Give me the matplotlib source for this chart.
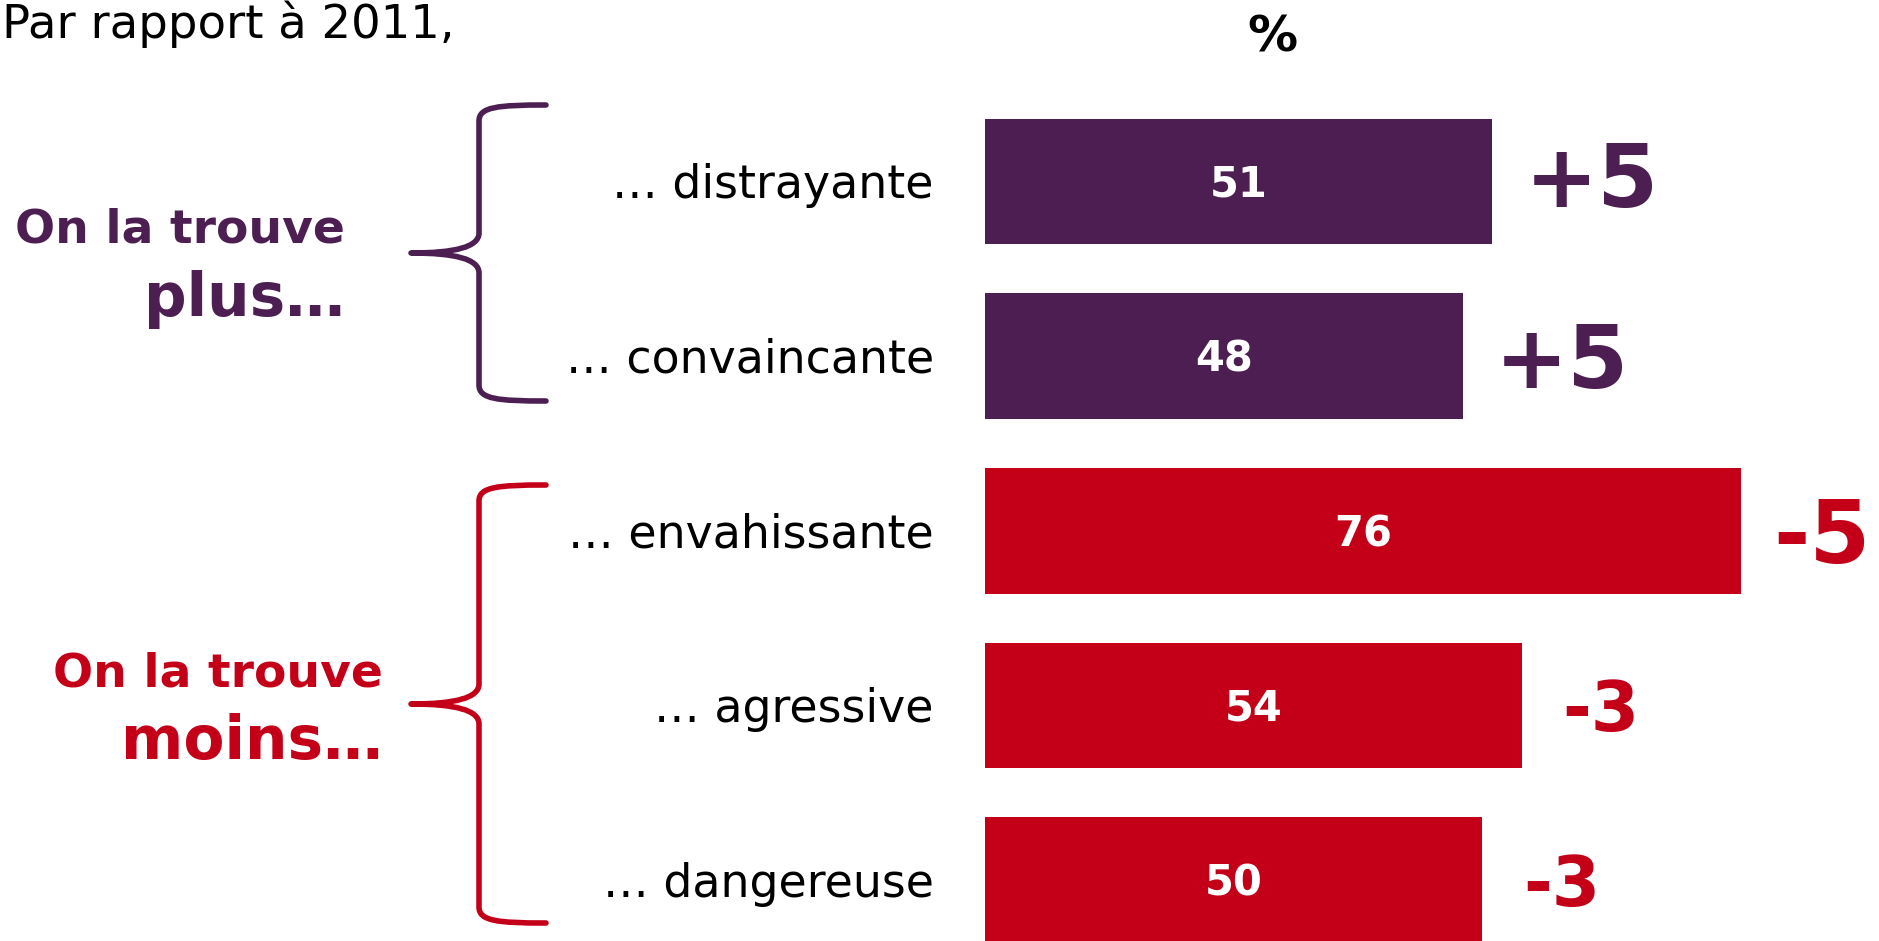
import matplotlib
matplotlib.use("Agg")
import matplotlib.pyplot as plt
from matplotlib.path import Path
from matplotlib.patches import PathPatch

# --- data -------------------------------------------------------------
categories = ["… distrayante", "… convaincante", "… envahissante",
              "… agressive", "… dangereuse"]
values = [51, 48, 76, 54, 50]          # % in the current wave
changes = [5, 5, -5, -3, -3]           # points vs 2011
group_titles = ["On la trouve", "On la trouve"]
group_words = ["plus…", "moins…"]
group_members = [[0, 1], [2, 3, 4]]

PURPLE = "#4c1e51"
RED = "#c40019"
group_colors = [PURPLE, RED]

# --- figure geometry (pixels) -----------------------------------------
W, H, DPI = 1879, 941, 100
ZERO_PX = 985          # x pixel of value 0
PX_PER_UNIT = 9.95     # pixels per percentage point
ROW0_PX = 181.6        # y pixel of first row centre
ROW_PITCH = 174.65     # pixels between rows

plt.rcParams["font.family"] = ["DejaVu Sans"]

fig = plt.figure(figsize=(W / DPI, H / DPI), dpi=DPI)
ax = fig.add_axes([0, 0, 1, 1])
ax.set_axis_off()
ax.set_xlim(-ZERO_PX / PX_PER_UNIT, (W - ZERO_PX) / PX_PER_UNIT)
ax.set_ylim((H - ROW0_PX) / ROW_PITCH, -ROW0_PX / ROW_PITCH)


def dx(px):
    return (px - ZERO_PX) / PX_PER_UNIT


def dy(py):
    return (py - ROW0_PX) / ROW_PITCH


row_color = [None] * len(categories)
for g, members in enumerate(group_members):
    for i in members:
        row_color[i] = group_colors[g]

ypos = list(range(len(categories)))
ax.barh(ypos, values, height=0.72, color=row_color, linewidth=0)


def centred_text(x, y, s, fs, dx_pt=0, dy_pt=0, **kw):
    """Place text so that its cap height is centred on y."""
    ax.annotate(s, xy=(x, y), xytext=(dx_pt, dy_pt - 0.365 * fs),
                textcoords="offset points", va="baseline", fontsize=fs, **kw)


for i, (cat, v, c) in enumerate(zip(categories, values, changes)):
    # category label
    centred_text(dx(934), i, cat, 33, ha="right", color="black")
    # value inside the bar
    centred_text(v / 2, i, str(v), 30, ha="center", color="white",
                 fontweight="bold")
    # change vs 2011
    big = abs(c) >= 5
    fs = 63 if big else 50
    centred_text(v, i, f"{c:+d}", fs, dx_pt=23 if big else 29,
                 dy_pt=5 if i == 0 else 0, ha="left",
                 color=row_color[i], fontweight="bold")

# --- braces and group titles ------------------------------------------
brace_spans = [(105, 401), (485, 923)]
title_offsets = [(-28, 41), (-35, 33)]
title_right = [345, 383]
VERT_X, ARM_X, TIP_X = 479, 546, 411

for g, (top, bot) in enumerate(brace_spans):
    mid = (top + bot) / 2
    pts = [
        (ARM_X, top), (VERT_X + 18, top), (VERT_X, top + 2), (VERT_X, top + 16),
        (VERT_X, mid - 20),
        (VERT_X, mid - 6), (VERT_X - 24, mid), (TIP_X, mid),
        (VERT_X - 24, mid), (VERT_X, mid + 6), (VERT_X, mid + 20),
        (VERT_X, bot - 16),
        (VERT_X, bot - 2), (VERT_X + 18, bot), (ARM_X, bot),
    ]
    codes = [Path.MOVETO, Path.CURVE4, Path.CURVE4, Path.CURVE4,
             Path.LINETO,
             Path.CURVE4, Path.CURVE4, Path.CURVE4,
             Path.CURVE4, Path.CURVE4, Path.CURVE4,
             Path.LINETO,
             Path.CURVE4, Path.CURVE4, Path.CURVE4]
    path = Path([(dx(x), dy(y)) for x, y in pts], codes)
    ax.add_patch(PathPatch(path, fill=False, edgecolor=group_colors[g],
                           linewidth=4.0, capstyle="round", joinstyle="round"))

    t_off, w_off = title_offsets[g]
    centred_text(dx(title_right[g]), dy(mid + t_off), group_titles[g], 34,
                 ha="right", color=group_colors[g], fontweight="bold")
    centred_text(dx(title_right[g]), dy(mid + w_off), group_words[g], 43,
                 ha="right", color=group_colors[g], fontweight="bold")

# --- header texts -------------------------------------------------------
fig.text(2 / W, 1 - 38 / H, "Par rapport à 2011,", fontsize=33.5,
         ha="left", va="baseline", color="black")
fig.text(1272 / W, 1 - 52 / H, "%", fontsize=36, ha="center",
         va="baseline", color="black", fontweight="bold")

fig.savefig("out.png", dpi=DPI, facecolor="white")
